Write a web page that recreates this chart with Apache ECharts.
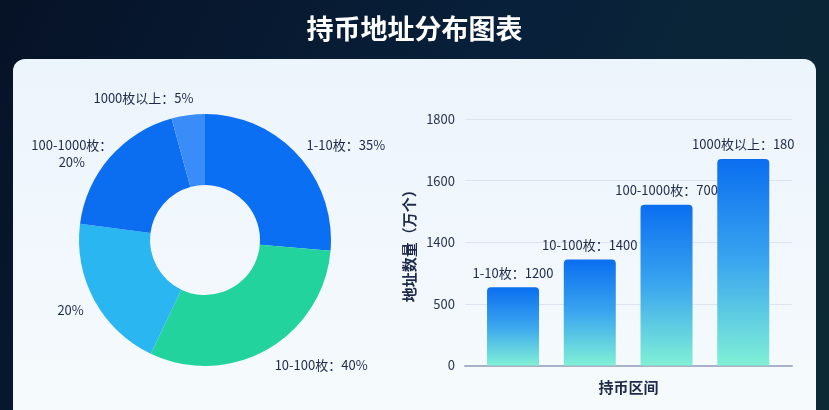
<!DOCTYPE html>
<html>
<head>
<meta charset="utf-8">
<script src="https://cdn.jsdelivr.net/npm/echarts@6/dist/echarts.min.js"></script>
<style>
html,body{margin:0;padding:0;background:#071528;}
#c{width:829px;height:410px;}
</style>
</head>
<body>
<div id="c"></div>
<script>
// ---- data ----
var titleText = '持币地址分布图表';
var pieNames = ['1-10枚', '10-100枚', '', '100-1000枚', '1000枚以上'];
var pieValues = [1200, 1400, 910, 850, 195];
var pieLabels = ['1-10枚：35%', '10-100枚：40%', '20%', '100-1000枚：\n20%', '1000枚以上：5%'];
var pieColors = ['#0a6ff2', '#22d39e', '#2ab6f1', '#0b6ef0', '#3a8cf8'];

var barCategories = ['1-10枚', '10-100枚', '100-1000枚', '1000枚以上'];
var barHeights = [1.27, 1.72, 2.61, 3.35];   // position on the (evenly spaced) y scale
var barLabels = ['1-10枚：1200', '10-100枚：1400', '100-1000枚：700', '1000枚以上：180'];
var yTickLabels = ['0', '500', '1400', '1600', '1800'];
var xAxisName = '持币区间';
var yAxisName = '地址数量（万个）';

// label nudges (style only)
var pieLabelShift = [[-5, -2], [-4, 5], [5, 4], [-24, 4], [12, -5]];
var pieLabelCentered = [false, false, false, true, false];

var font = '"Noto Sans CJK SC", "Noto Sans", sans-serif';
var chart = echarts.init(document.getElementById('c'));

var pieData = pieValues.map(function (v, i) {
  return { name: pieNames[i] || ('slice' + i), value: v, itemStyle: { color: pieColors[i] } };
});
var barData = barHeights.map(function (h, i) { return [i, h]; });

chart.setOption({
  backgroundColor: new echarts.graphic.LinearGradient(0, 0, 1, 1, [
    { offset: 0, color: '#061226' },
    { offset: 0.5, color: '#08203a' },
    { offset: 1, color: '#0c2a34' }
  ]),
  textStyle: { fontFamily: font },
  title: {
    text: titleText,
    left: 'center',
    top: 10,
    textStyle: { color: '#ffffff', fontSize: 27, fontWeight: 'bold', fontFamily: font }
  },
  graphic: [{
    type: 'rect',
    z: 0,
    shape: { x: 13, y: 59, width: 803, height: 400, r: 12 },
    style: {
      fill: new echarts.graphic.LinearGradient(0, 0, 0, 1, [
        { offset: 0, color: '#ecf4fc' },
        { offset: 1, color: '#f7fbfd' }
      ])
    }
  }],
  grid: { left: 465, right: 37, top: 119, bottom: 44.5 },
  xAxis: {
    type: 'value',
    min: -0.626,
    max: 3.635,
    axisLabel: { show: false },
    axisTick: { show: false },
    splitLine: { show: false },
    axisLine: { show: true, lineStyle: { color: '#a9b1c9', width: 2 } },
    name: xAxisName,
    nameLocation: 'middle',
    nameGap: 14,
    nameTextStyle: { color: '#1e2a4a', fontSize: 15, fontWeight: 'bold', fontFamily: font }
  },
  yAxis: {
    type: 'value',
    min: 0,
    max: 4,
    interval: 1,
    axisLine: { show: false },
    axisTick: { show: false },
    axisLabel: {
      color: '#2a3352', fontSize: 13, margin: 10, fontFamily: font,
      formatter: function (v) { return yTickLabels[Math.round(v)]; }
    },
    splitLine: { lineStyle: { color: '#dde3ef', width: 1 } },
    name: yAxisName,
    nameLocation: 'middle',
    nameRotate: 90,
    nameGap: 48,
    nameTextStyle: { color: '#1e2a4a', fontSize: 15, fontWeight: 'bold', fontFamily: font }
  },
  series: [{
    type: 'pie',
    center: [205, 240],
    radius: [55, 126],
    startAngle: 90,
    clockwise: true,
    avoidLabelOverlap: false,
    data: pieData,
    label: {
      show: true,
      position: 'outside',
      color: '#1e2a4a',
      fontSize: 13,
      lineHeight: 17,
      fontFamily: font,
      formatter: function (p) { return pieLabels[p.dataIndex]; }
    },
    labelLine: { show: false, length: 12, length2: 0 },
    labelLayout: function (p) {
      var s = pieLabelShift[p.dataIndex];
      var r = { dx: s[0], dy: s[1] };
      if (pieLabelCentered[p.dataIndex]) r.align = 'center';
      return r;
    },
    emphasis: { disabled: true }
  }, {
    type: 'bar',
    data: barData,
    barWidth: 52,
    itemStyle: {
      borderRadius: [4, 4, 0, 0],
      color: new echarts.graphic.LinearGradient(0, 0, 0, 1, [
        { offset: 0, color: '#0a6ef0' },
        { offset: 0.5, color: '#3aa6ef' },
        { offset: 1, color: '#80f0d6' }
      ])
    },
    label: {
      show: true,
      position: 'top',
      distance: 8,
      color: '#1e2a4a',
      fontSize: 13,
      fontFamily: font,
      formatter: function (p) { return barLabels[p.dataIndex]; }
    }
  }]
});
</script>
</body>
</html>
